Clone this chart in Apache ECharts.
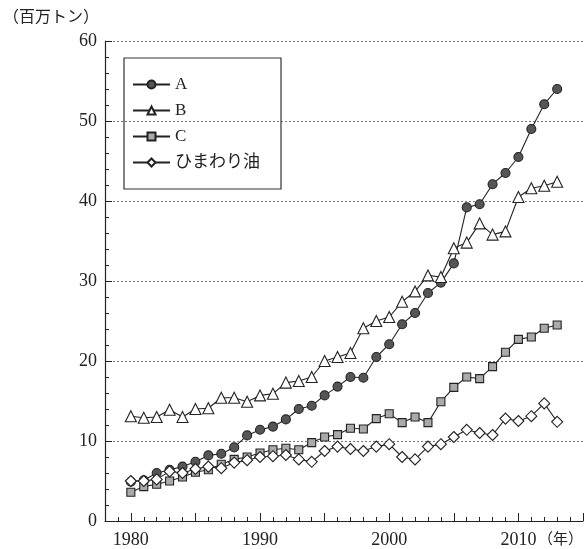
<!DOCTYPE html>
<html><head><meta charset="utf-8">
<script src="https://cdn.jsdelivr.net/npm/echarts@6/dist/echarts.min.js"></script>
<style>html,body{margin:0;padding:0;background:#fff}#c{width:585px;height:549px}</style>
</head><body><div id="c"></div>
<script>
const years = [];
for (let y = 1980; y <= 2013; y++) years.push(y);
const seriesA = [4.9,5.1,6.0,6.4,6.8,7.4,8.2,8.4,9.2,10.7,11.4,11.8,12.7,14.0,14.4,15.7,16.8,18.0,17.9,20.5,22.1,24.6,26.0,28.5,29.8,32.2,39.2,39.6,42.1,43.5,45.5,49.0,52.1,54.0];
const seriesB = [13.1,12.9,13.0,13.9,13.0,14.0,14.1,15.4,15.4,14.9,15.7,15.9,17.3,17.5,18.0,20.0,20.5,21.0,24.1,25.0,25.5,27.4,28.7,30.7,30.5,34.1,34.8,37.2,35.8,36.2,40.5,41.6,41.9,42.4];
const seriesC = [3.6,4.3,4.6,5.0,5.5,6.1,6.4,7.1,7.7,8.0,8.5,8.9,9.1,8.9,9.8,10.5,10.8,11.6,11.5,12.8,13.4,12.3,13.0,12.3,14.9,16.7,18.0,17.8,19.3,21.1,22.7,23.0,24.1,24.5];
const seriesSun = [5.0,5.0,5.2,6.2,6.0,6.5,6.8,6.6,7.3,7.6,8.0,8.1,8.25,7.7,7.4,8.75,9.3,9.0,8.75,9.3,9.6,8.0,7.7,9.3,9.6,10.5,11.4,11.0,10.75,12.8,12.5,13.1,14.7,12.4];
const names = ['A','B','C','ひまわり油'];
const xLabelYears = [1980,1990,2000,2010];
const xMajorTicks = [1980,1985,1990,1995,2000,2005,2010,2015];
const xMinorTicks = [];
for (let y = 1979; y <= 2014; y++) xMinorTicks.push(y);

const pairs = arr => arr.map((v,i)=>[years[i], v]);
const serifFont = '"Liberation Serif","DejaVu Serif","Noto Sans CJK JP",serif';
const chart = echarts.init(document.getElementById('c'), null, {renderer:'canvas'});
const lineStyle = {color:'#222', width:1.1};
function mk(name, data, symbol, size, fill) {
  return {
    name, type:'line', data: pairs(data), symbol, symbolSize:size,
    lineStyle, itemStyle:{color:fill, borderColor:'#222', borderWidth:1.1},
    emphasis:{disabled:true}, animation:false, z: 3
  };
}
chart.setOption({
  animation:false,
  grid:{left:105, right:2, top:41, bottom:28},
  legend:{
    orient:'vertical', left:124, top:58,
    data: names,
    itemWidth:37, itemHeight:10, itemGap:9,
    padding:[18, 21, 18, 8],
    borderColor:'#333', borderWidth:1.2,
    textStyle:{fontFamily:serifFont, fontSize:17, color:'#222', lineHeight:16},
    selectedMode:false
  },
  xAxis:[{
    type:'value', min:1978, max:2015,
    axisLine:{show:true, lineStyle:{color:'#222', width:1.2}},
    axisTick:{show:true, inside:true, length:8, customValues:xMajorTicks, lineStyle:{color:'#222'}},
    axisLabel:{customValues:xLabelYears, formatter: v => String(v), margin:10, fontFamily:serifFont, fontSize:18, color:'#222'},
    splitLine:{show:false}
  },{
    type:'value', min:1978, max:2015, gridIndex:0, position:'bottom',
    axisLine:{show:false},
    axisTick:{show:true, inside:true, length:4, customValues:xMinorTicks, lineStyle:{color:'#222'}},
    axisLabel:{show:false},
    splitLine:{show:false}
  }],
  yAxis:{
    type:'value', min:0, max:60, interval:10,
    axisLine:{show:true, lineStyle:{color:'#222', width:1.2}},
    axisTick:{show:true, inside:true, length:7, lineStyle:{color:'#222'}},
    minorTick:{show:true, splitNumber:5, length:4, lineStyle:{color:'#222'}},
    axisLabel:{margin:8, fontFamily:serifFont, fontSize:18, color:'#222'},
    splitLine:{show:true, lineStyle:{color:'#777', type:[2,2], width:1}}
  },
  graphic:[
    {type:'text', left:3, top:8, style:{text:'（百万トン）', font:'16px "Noto Sans CJK JP"', fill:'#222'}},
    {type:'text', left:538, top:531, style:{text:'（年）', font:'15px "Noto Sans CJK JP"', fill:'#222'}}
  ],
  series:[
    mk('A', seriesA, 'circle', 9, '#555'),
    mk('B', seriesB, 'triangle', 11, '#fff'),
    mk('C', seriesC, 'rect', 8, '#aaa'),
    mk('ひまわり油', seriesSun, 'diamond', 11, '#fff')
  ]
});
</script></body></html>
